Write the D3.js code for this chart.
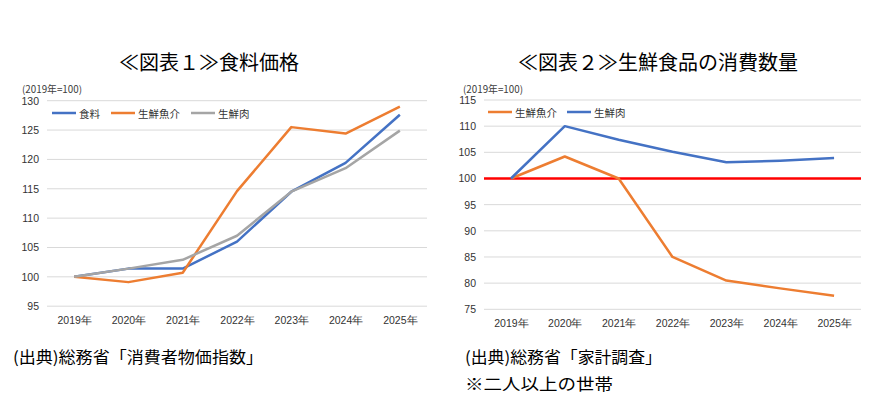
<!DOCTYPE html>
<html><head><meta charset="utf-8">
<script src="https://cdn.jsdelivr.net/npm/d3@7"></script>
<style>body{margin:0;background:#fff}svg{display:block}</style>
</head><body>
<svg id="c" width="870" height="396"></svg>
<script>
const years = ["2019年","2020年","2021年","2022年","2023年","2024年","2025年"];
// Chart 1: food prices (2019=100)
const food1 = [100, 101.4, 101.4, 106.0, 114.5, 119.4, 127.6];
const fish1 = [100, 99.1, 100.7, 114.6, 125.5, 124.4, 129.0];
const meat1 = [100, 101.4, 102.9, 107.0, 114.5, 118.5, 124.9];
const ticks1 = [95, 100, 105, 110, 115, 120, 125, 130];
// Chart 2: consumption volume (2019=100)
const fish2 = [100, 104.2, 100, 85.0, 80.5, 79.0, 77.6];
const meat2 = [100, 110.0, 107.4, 105.1, 103.1, 103.4, 103.9];
const ticks2 = [75, 80, 85, 90, 95, 100, 105, 110, 115];

const svg = d3.select("#c");
const JP = "'Noto Sans CJK JP', sans-serif";
const AR = "'Liberation Sans', Arial, sans-serif";
const BLUE = "#4472C4", ORANGE = "#ED7D31", GRAY = "#A5A5A5";

function chart(o) {
  const x = d3.scalePoint().domain(years).range([o.x0, o.x1]).padding(0.5);
  const y = d3.scaleLinear().domain(o.domain).range([o.y1, o.y0]);
  const g = svg.append("g");
  g.append("text").attr("x", o.titleX).attr("y", 61).attr("text-anchor", "middle")
    .attr("dominant-baseline", "central").attr("font-family", JP).attr("font-size", 20)
    .attr("fill", "#000").text(o.title);
  g.append("text").attr("x", o.unitX).attr("y", 88).attr("dominant-baseline", "central")
    .attr("font-family", JP).attr("font-size", 10).attr("fill", "#404040")
    .attr("textLength", 60).attr("lengthAdjust", "spacingAndGlyphs").text("(2019年=100)");
  g.selectAll("line.grid").data(o.ticks).join("line")
    .attr("x1", o.x0).attr("x2", o.x1).attr("y1", d => y(d)).attr("y2", d => y(d))
    .attr("stroke", "#d9d9d9").attr("stroke-width", 1);
  const ya = d3.axisLeft(y).tickValues(o.ticks).tickSize(0).tickPadding(0);
  const yg = g.append("g").attr("transform", `translate(${o.x0 - 8},0)`).call(ya);
  yg.select(".domain").remove();
  yg.selectAll("text").attr("font-family", AR).attr("font-size", 10.5).attr("fill", "#333");
  const xa = d3.axisBottom(x).tickSize(0).tickPadding(0);
  const xg = g.append("g").attr("transform", `translate(0,${o.xLabelY})`).call(xa);
  xg.select(".domain").remove();
  xg.selectAll("text").attr("font-family", AR).attr("font-size", 10.5).attr("fill", "#333")
    .attr("dy", "0.35em");
  if (o.refLine) {
    g.append("line").attr("x1", o.x0).attr("x2", o.x1).attr("y1", y(o.refLine)).attr("y2", y(o.refLine))
      .attr("stroke", "#FF0000").attr("stroke-width", 2.5);
  }
  const line = d3.line().x((d, i) => x(years[i])).y(d => y(d));
  o.series.forEach(s => {
    g.append("path").datum(s.values).attr("d", line).attr("fill", "none")
      .attr("stroke", s.color).attr("stroke-width", 2.5).attr("stroke-linejoin", "round");
  });
  o.series.forEach(s => {
    g.append("line").attr("x1", s.lx).attr("x2", s.lx + 24).attr("y1", o.legendY).attr("y2", o.legendY)
      .attr("stroke", s.color).attr("stroke-width", 2.5);
    g.append("text").attr("x", s.lx + 27).attr("y", o.legendY).attr("dominant-baseline", "central")
      .attr("font-family", JP).attr("font-size", 10.5).attr("fill", "#333").text(s.name);
  });
}

chart({
  title: "≪図表１≫食料価格", titleX: 209, unitX: 22,
  x0: 47, x1: 427, y0: 100.7, y1: 306.2, domain: [95, 130], ticks: ticks1,
  xLabelY: 320, legendY: 113,
  series: [
    {name: "食料", values: food1, color: BLUE, lx: 52},
    {name: "生鮮魚介", values: fish1, color: ORANGE, lx: 111},
    {name: "生鮮肉", values: meat1, color: GRAY, lx: 191}
  ]
});
chart({
  title: "≪図表２≫生鮮食品の消費数量", titleX: 658, unitX: 463,
  x0: 484, x1: 861, y0: 100, y1: 309.3, domain: [75, 115], ticks: ticks2,
  xLabelY: 323, legendY: 112, refLine: 100,
  series: [
    {name: "生鮮魚介", values: fish2, color: ORANGE, lx: 488},
    {name: "生鮮肉", values: meat2, color: BLUE, lx: 567}
  ]
});

function note(x, y, len, t) {
  svg.append("text").attr("x", x).attr("y", y).attr("dominant-baseline", "central")
    .attr("font-family", JP).attr("font-size", 16).attr("fill", "#000")
    .attr("textLength", len).attr("lengthAdjust", "spacingAndGlyphs").text(t);
}
note(13, 356, 250, "(出典)総務省「消費者物価指数」");
note(465, 356, 197, "(出典)総務省「家計調査」");
note(465, 383, 148, "※二人以上の世帯");
</script>
</body></html>
